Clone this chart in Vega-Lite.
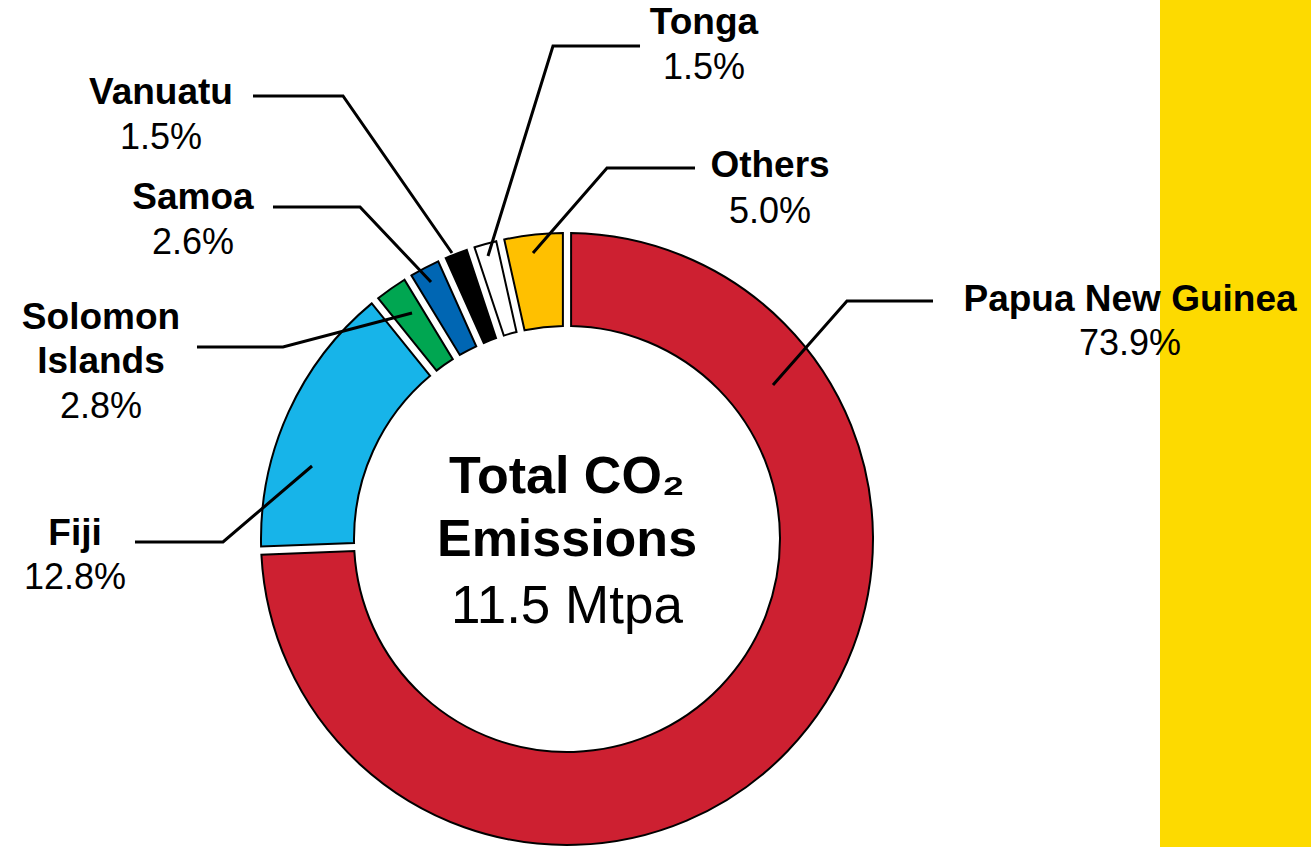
{
  "$schema": "https://vega.github.io/schema/vega-lite/v6.json",
  "width": 1311,
  "height": 847,
  "autosize": {"type": "none"},
  "padding": 0,
  "background": "white",
  "config": {"view": {"stroke": null}, "font": "Liberation Sans"},
  "datasets": {
    "shares": [
      {"country": "Papua New Guinea", "arcShare": 74.4, "reported": 73.9},
      {"country": "Fiji", "arcShare": 14.8, "reported": 12.8},
      {"country": "Solomon Islands", "arcShare": 2.1, "reported": 2.8},
      {"country": "Samoa", "arcShare": 2.0, "reported": 2.6},
      {"country": "Vanuatu", "arcShare": 1.6, "reported": 1.5},
      {"country": "Tonga", "arcShare": 1.6, "reported": 1.5},
      {"country": "Others", "arcShare": 3.5, "reported": 5.0}
    ],
    "labels": [
      {"country": "Papua New Guinea", "name": "Papua New Guinea", "east": 1.8399, "nameNorth": 0.7451, "pctNorth": 0.6013},
      {"country": "Fiji", "name": "Fiji", "east": -1.6078, "nameNorth": -0.0196, "pctNorth": -0.1634},
      {"country": "Solomon Islands", "name": "Solomon\nIslands", "east": -1.5229, "nameNorth": 0.6863, "pctNorth": 0.3954},
      {"country": "Samoa", "name": "Samoa", "east": -1.2222, "nameNorth": 1.0784, "pctNorth": 0.9314},
      {"country": "Vanuatu", "name": "Vanuatu", "east": -1.3268, "nameNorth": 1.4216, "pctNorth": 1.2745},
      {"country": "Tonga", "name": "Tonga", "east": 0.4477, "nameNorth": 1.6503, "pctNorth": 1.5033},
      {"country": "Others", "name": "Others", "east": 0.6634, "nameNorth": 1.1830, "pctNorth": 1.0327}
    ],
    "leaders": [
      {"country": "Papua New Guinea", "seq": 1, "east": 1.1961, "north": 0.7778},
      {"country": "Papua New Guinea", "seq": 2, "east": 0.9150, "north": 0.7778},
      {"country": "Papua New Guinea", "seq": 3, "east": 0.6732, "north": 0.5033},
      {"country": "Fiji", "seq": 1, "east": -1.4118, "north": -0.0098},
      {"country": "Fiji", "seq": 2, "east": -1.1242, "north": -0.0098},
      {"country": "Fiji", "seq": 3, "east": -0.8333, "north": 0.2386},
      {"country": "Solomon Islands", "seq": 1, "east": -1.2092, "north": 0.6275},
      {"country": "Solomon Islands", "seq": 2, "east": -0.9281, "north": 0.6275},
      {"country": "Solomon Islands", "seq": 3, "east": -0.5065, "north": 0.7386},
      {"country": "Samoa", "seq": 1, "east": -0.9608, "north": 1.0850},
      {"country": "Samoa", "seq": 2, "east": -0.6765, "north": 1.0850},
      {"country": "Samoa", "seq": 3, "east": -0.4444, "north": 0.8399},
      {"country": "Vanuatu", "seq": 1, "east": -1.0261, "north": 1.4477},
      {"country": "Vanuatu", "seq": 2, "east": -0.7320, "north": 1.4477},
      {"country": "Vanuatu", "seq": 3, "east": -0.3758, "north": 0.9346},
      {"country": "Tonga", "seq": 1, "east": 0.2386, "north": 1.6111},
      {"country": "Tonga", "seq": 2, "east": -0.0458, "north": 1.6111},
      {"country": "Tonga", "seq": 3, "east": -0.2582, "north": 0.9248},
      {"country": "Others", "seq": 1, "east": 0.4183, "north": 1.2124},
      {"country": "Others", "seq": 2, "east": 0.1307, "north": 1.2124},
      {"country": "Others", "seq": 3, "east": -0.1111, "north": 0.9346}
    ],
    "band": [
      {"from": 1.9379, "to": 2.43137, "bottom": -1.00654, "top": 1.76144}
    ],
    "centerBold": [
      {"line": "Total CO₂", "north": 0.1503},
      {"line": "Emissions", "north": -0.0556}
    ],
    "centerPlain": [
      {"line": "11.5 Mtpa", "north": -0.2745}
    ]
  },
  "layer": [
    {
      "data": {"name": "band"},
      "mark": {"type": "rect", "color": "#FDDA00"},
      "encoding": {
        "x": {"field": "from", "type": "quantitative", "scale": {"domain": [-1.85294, 2.43137], "nice": false, "zero": false}, "axis": null},
        "x2": {"field": "to"},
        "y": {"field": "bottom", "type": "quantitative", "scale": {"domain": [-1.00654, 1.76144], "nice": false, "zero": false}, "axis": null},
        "y2": {"field": "top"}
      }
    },
    {
      "data": {"name": "shares"},
      "transform": [{"window": [{"op": "row_number", "as": "idx"}]}],
      "mark": {"type": "arc", "outerRadius": 306, "innerRadius": 213, "padAngle": 0.022, "stroke": "#000000", "strokeWidth": 2},
      "encoding": {
        "x": {"datum": 0, "type": "quantitative", "scale": {"domain": [-1.85294, 2.43137], "nice": false, "zero": false}, "axis": null},
        "y": {"datum": 0, "type": "quantitative", "scale": {"domain": [-1.00654, 1.76144], "nice": false, "zero": false}, "axis": null},
        "theta": {"field": "arcShare", "type": "quantitative", "stack": true},
        "order": {"field": "idx", "type": "quantitative"},
        "color": {
          "field": "country",
          "type": "nominal",
          "scale": {
            "domain": ["Papua New Guinea", "Fiji", "Solomon Islands", "Samoa", "Vanuatu", "Tonga", "Others"],
            "range": ["#CD2031", "#17B4E9", "#00A651", "#0066B3", "#000000", "#FFFFFF", "#FFC000"]
          },
          "legend": null
        }
      }
    },
    {
      "data": {"name": "leaders"},
      "mark": {"type": "line", "color": "#000000", "strokeWidth": 3},
      "encoding": {
        "x": {"field": "east", "type": "quantitative", "scale": {"domain": [-1.85294, 2.43137], "nice": false, "zero": false}, "axis": null},
        "y": {"field": "north", "type": "quantitative", "scale": {"domain": [-1.00654, 1.76144], "nice": false, "zero": false}, "axis": null},
        "detail": {"field": "country", "type": "nominal"},
        "order": {"field": "seq", "type": "quantitative"}
      }
    },
    {
      "data": {"name": "labels"},
      "mark": {"type": "text", "font": "Liberation Sans", "fontWeight": "bold", "fontSize": 37, "align": "center", "baseline": "alphabetic", "lineBreak": "\n", "lineHeight": 44, "color": "#000000"},
      "encoding": {
        "x": {"field": "east", "type": "quantitative", "scale": {"domain": [-1.85294, 2.43137], "nice": false, "zero": false}, "axis": null},
        "y": {"field": "nameNorth", "type": "quantitative", "scale": {"domain": [-1.00654, 1.76144], "nice": false, "zero": false}, "axis": null},
        "text": {"field": "name", "type": "nominal"}
      }
    },
    {
      "data": {"name": "labels"},
      "transform": [
        {"lookup": "country", "from": {"data": {"name": "shares"}, "key": "country", "fields": ["reported"]}},
        {"calculate": "format(datum.reported, '.1f') + '%'", "as": "pctText"}
      ],
      "mark": {"type": "text", "font": "Liberation Sans", "fontSize": 36, "align": "center", "baseline": "alphabetic", "color": "#000000"},
      "encoding": {
        "x": {"field": "east", "type": "quantitative", "scale": {"domain": [-1.85294, 2.43137], "nice": false, "zero": false}, "axis": null},
        "y": {"field": "pctNorth", "type": "quantitative", "scale": {"domain": [-1.00654, 1.76144], "nice": false, "zero": false}, "axis": null},
        "text": {"field": "pctText", "type": "nominal"}
      }
    },
    {
      "data": {"name": "centerBold"},
      "mark": {"type": "text", "font": "Liberation Sans", "fontWeight": "bold", "fontSize": 52, "align": "center", "baseline": "alphabetic", "color": "#000000"},
      "encoding": {
        "x": {"datum": 0, "type": "quantitative", "scale": {"domain": [-1.85294, 2.43137], "nice": false, "zero": false}, "axis": null},
        "y": {"field": "north", "type": "quantitative", "scale": {"domain": [-1.00654, 1.76144], "nice": false, "zero": false}, "axis": null},
        "text": {"field": "line", "type": "nominal"}
      }
    },
    {
      "data": {"name": "centerPlain"},
      "mark": {"type": "text", "font": "Liberation Sans", "fontSize": 53, "align": "center", "baseline": "alphabetic", "color": "#000000"},
      "encoding": {
        "x": {"datum": 0, "type": "quantitative", "scale": {"domain": [-1.85294, 2.43137], "nice": false, "zero": false}, "axis": null},
        "y": {"field": "north", "type": "quantitative", "scale": {"domain": [-1.00654, 1.76144], "nice": false, "zero": false}, "axis": null},
        "text": {"field": "line", "type": "nominal"}
      }
    }
  ]
}
